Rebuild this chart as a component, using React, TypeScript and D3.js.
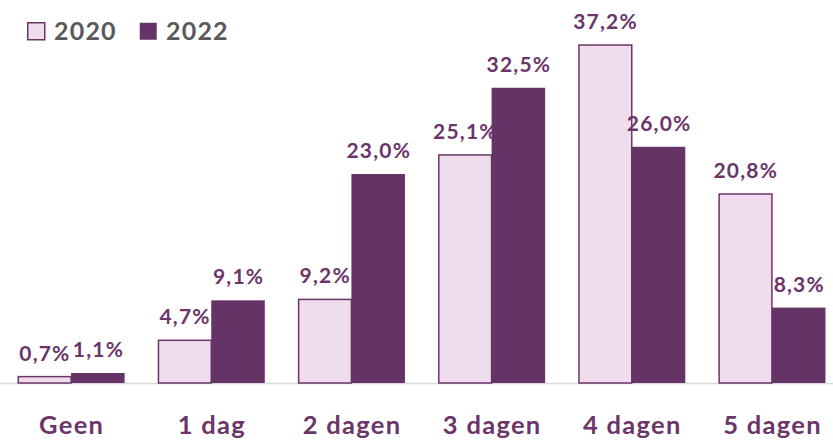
import React from "react";
import * as d3 from "d3";

const categories = ["Geen", "1 dag", "2 dagen", "3 dagen", "4 dagen", "5 dagen"];
const series = ["2020", "2022"];
const values2020 = [0.7, 4.7, 9.2, 25.1, 37.2, 20.8];
const values2022 = [1.1, 9.1, 23.0, 32.5, 26.0, 8.3];

const W = 833;
const H = 440;
const baseY = 383;
const FONT = "Lato, 'Open Sans', sans-serif";
const LABEL = "#6B3569";
const fills = ["#EFDDEE", "#663366"];

export default function App() {
  const x = d3.scaleBand<string>().domain(categories).range([1, 842]).paddingInner(0.236).paddingOuter(0.118);
  const x1 = d3.scaleBand<string>().domain(series).range([0, x.bandwidth()]);
  const y = d3.scaleLinear().domain([0, 40]).range([baseY, baseY - 363.4]);
  const data = [values2020, values2022];
  const fmt = (v: number) => v.toFixed(1).replace(".", ",") + "%";

  return (
    <svg width={W} height={H} style={{ position: "absolute", left: 0, top: 0 }}>
      <rect width={W} height={H} fill="#fff" />
      <line x1={0} x2={W} y1={baseY + 0.5} y2={baseY + 0.5} stroke="#D9D9D9" strokeWidth={1.5} />
      {categories.map((c, i) => (
        <g key={c}>
          {series.map((s, j) => {
            const v = data[j][i];
            const bx = (x(c) as number) + (x1(s) as number);
            const bw = x1.bandwidth();
            const top = y(v);
            return (
              <g key={s}>
                <rect
                  x={bx + (j === 0 ? 0.75 : 0)}
                  y={top}
                  width={bw - (j === 0 ? 0.75 : 0)}
                  height={baseY - top}
                  fill={fills[j]}
                  stroke={j === 0 ? "#6B3569" : "none"}
                  strokeWidth={1.5}
                />
                <text
                  x={bx + bw / 2 + 0.6}
                  y={top - 16}
                  textAnchor="middle"
                  fontFamily={FONT}
                  fontWeight={700}
                  fontSize={21}
                  letterSpacing={1.2}
                  fill={LABEL}
                >
                  {fmt(v)}
                </text>
              </g>
            );
          })}
          <text
            x={(x(c) as number) + x.bandwidth() / 2 + 0.6}
            y={434}
            textAnchor="middle"
            fontFamily={FONT}
            fontWeight={700}
            fontSize={25.5}
            letterSpacing={1.3}
            fill={LABEL}
          >
            {c}
          </text>
        </g>
      ))}
      {series.map((s, j) => (
        <g key={s} transform={`translate(${27 + j * 112},0)`}>
          <rect x={0.75} y={22.75} width={17} height={17} fill={fills[j]} stroke={j === 0 ? "#6B3569" : "none"} strokeWidth={1.5} />
          <text x={27} y={39.5} fontFamily={FONT} fontWeight={700} fontSize={25} letterSpacing={1.2} fill="#595959">
            {s}
          </text>
        </g>
      ))}
    </svg>
  );
}
